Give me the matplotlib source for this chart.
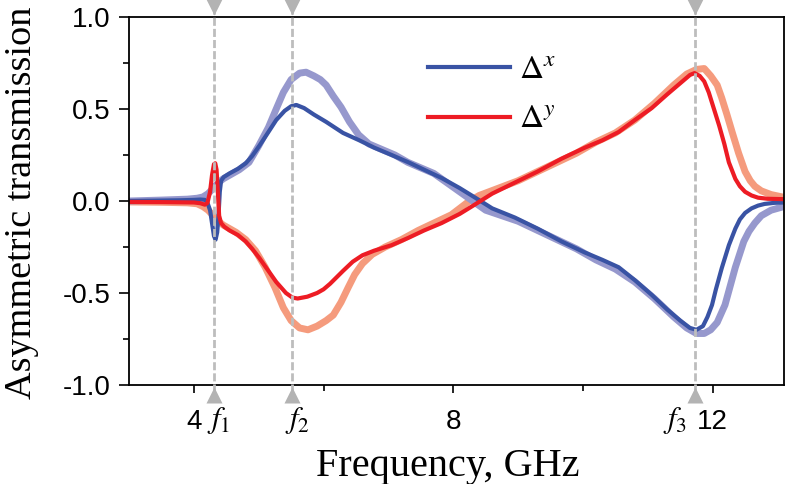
import matplotlib
matplotlib.use('Agg')
import matplotlib.pyplot as plt
from matplotlib.ticker import MultipleLocator, FormatStrFormatter
from matplotlib.lines import Line2D

plt.rcParams['axes.unicode_minus'] = False
plt.rcParams['mathtext.fontset'] = 'stix'

# Delta^x, dark blue (frequency GHz, value)
dx_freq = [3.0, 3.4, 3.8, 4.0, 4.1, 4.17, 4.21, 4.25, 4.28, 4.31, 4.335, 4.36, 4.38, 4.40,
           4.42, 4.46, 4.55, 4.68, 4.8, 4.9, 5.01, 5.15, 5.27, 5.4, 5.5, 5.58, 5.7, 5.85, 6.04,
           6.3, 6.55, 6.78, 7.05, 7.31, 7.55, 7.82, 8.1, 8.33, 8.6, 8.95, 9.3, 9.67, 10.03,
           10.3, 10.55, 10.8, 11.06, 11.3, 11.5, 11.65, 11.75, 11.85, 11.92, 11.99, 12.05,
           12.14, 12.25, 12.35, 12.42, 12.5, 12.6, 12.7, 12.8, 12.95, 13.1]
dx_vals = [0.0, 0.002, 0.004, 0.006, 0.008, 0.006, -0.01, -0.05, -0.12, -0.19, -0.21, -0.17, -0.08, 0.05,
           0.11, 0.13, 0.15, 0.175, 0.205, 0.245, 0.30, 0.375, 0.44, 0.49, 0.515, 0.522, 0.505, 0.47, 0.43,
           0.37, 0.33, 0.29, 0.25, 0.21, 0.17, 0.125, 0.07, 0.02, -0.04, -0.09, -0.15, -0.22, -0.28,
           -0.32, -0.36, -0.43, -0.51, -0.59, -0.65, -0.69, -0.70, -0.68, -0.63, -0.565, -0.48,
           -0.365, -0.24, -0.15, -0.10, -0.065, -0.04, -0.025, -0.016, -0.01, -0.008]

# Delta^y, red
dy_freq = [3.0, 3.5, 4.0, 4.1, 4.17, 4.21, 4.25, 4.28, 4.31, 4.33, 4.35, 4.37, 4.39, 4.42,
           4.47, 4.55, 4.68, 4.8, 4.9, 5.01, 5.15, 5.27, 5.42, 5.52, 5.6, 5.75, 5.9, 6.0, 6.1,
           6.2, 6.3, 6.45, 6.6, 6.78, 7.05, 7.31, 7.55, 7.82, 8.1, 8.33, 8.6, 8.95, 9.3, 9.67, 10.03,
           10.3, 10.55, 10.8, 11.06, 11.3, 11.5, 11.65, 11.72, 11.8, 11.87, 11.94, 12.02, 12.1,
           12.18, 12.25, 12.35, 12.42, 12.5, 12.6, 12.7, 12.85, 13.1]
dy_vals = [-0.005, -0.006, -0.008, -0.012, -0.02, -0.01, 0.05, 0.14, 0.2, 0.205, 0.17, 0.05, -0.08, -0.12,
           -0.14, -0.16, -0.185, -0.22, -0.26, -0.31, -0.38, -0.44, -0.50, -0.525, -0.53, -0.52, -0.50, -0.48, -0.45,
           -0.415, -0.38, -0.33, -0.295, -0.27, -0.24, -0.20, -0.16, -0.12, -0.07, -0.02, 0.04, 0.10, 0.16, 0.23, 0.29,
           0.33, 0.375, 0.44, 0.505, 0.58, 0.64, 0.685, 0.695, 0.68, 0.65, 0.59, 0.50, 0.41,
           0.31, 0.21, 0.12, 0.08, 0.05, 0.03, 0.018, 0.012, 0.01]

# light blue (second Delta^x curve)
lx_freq = [3.0, 3.5, 3.9, 4.05, 4.14, 4.22, 4.3, 4.38, 4.45, 4.55, 4.7, 4.85, 5.0, 5.15,
           5.27, 5.38, 5.5, 5.63, 5.73, 5.85, 5.95, 6.04, 6.15, 6.27, 6.4, 6.54, 6.7, 6.9,
           7.1, 7.3, 7.5, 7.7, 7.9, 8.1, 8.3, 8.5, 8.75, 9.0, 9.3, 9.6, 9.9, 10.2, 10.5,
           10.8, 11.1, 11.4, 11.6, 11.75, 11.87, 11.97, 12.07, 12.19, 12.28, 12.35, 12.48,
           12.56, 12.65, 12.75, 12.9, 13.1]
lx_vals = [0.0, 0.005, 0.01, 0.015, 0.022, 0.04, 0.07, 0.10, 0.12, 0.14, 0.17, 0.21, 0.30, 0.40,
           0.50, 0.59, 0.66, 0.695, 0.70, 0.68, 0.66, 0.63, 0.57, 0.51, 0.43, 0.36, 0.31, 0.28,
           0.25, 0.21, 0.18, 0.15, 0.10, 0.05, 0.0, -0.05, -0.08, -0.11, -0.16, -0.21, -0.26, -0.32, -0.37,
           -0.44, -0.53, -0.63, -0.69, -0.72, -0.72, -0.70, -0.66, -0.565, -0.45, -0.36, -0.22,
           -0.165, -0.12, -0.08, -0.05, -0.03]

# light orange (second Delta^y curve)
ly_freq = [3.0, 3.5, 3.9, 4.05, 4.14, 4.22, 4.3, 4.38, 4.45, 4.55, 4.65, 4.8, 4.95, 5.1,
           5.25, 5.38, 5.5, 5.63, 5.76, 5.9, 6.04, 6.15, 6.27, 6.38, 6.48, 6.6, 6.75, 6.95,
           7.2, 7.46, 7.7, 7.97, 8.1, 8.23, 8.4, 8.7, 9.0, 9.3, 9.6, 9.9, 10.2, 10.5, 10.8,
           11.1, 11.4, 11.6, 11.75, 11.87, 11.97, 12.07, 12.14, 12.22, 12.3, 12.4, 12.5,
           12.58, 12.65, 12.75, 12.9, 13.1]
ly_vals = [-0.005, -0.007, -0.01, -0.015, -0.03, -0.05, -0.08, -0.11, -0.13, -0.15, -0.17, -0.21, -0.27, -0.36,
           -0.47, -0.58, -0.65, -0.69, -0.70, -0.68, -0.65, -0.62, -0.55, -0.47, -0.40, -0.34, -0.29, -0.25,
           -0.21, -0.16, -0.12, -0.075, -0.04, -0.005, 0.03, 0.07, 0.11, 0.16, 0.21, 0.26, 0.32, 0.37, 0.44,
           0.53, 0.63, 0.69, 0.715, 0.72, 0.68, 0.63, 0.56, 0.47, 0.375, 0.26, 0.16,
           0.11, 0.08, 0.055, 0.035, 0.02]

marker_freqs = [4.31, 5.52, 11.72]
marker_names = ['$f_1$', '$f_2$', '$f_3$']
marker_label_x = [4.38, 5.6, 11.42]

dark_blue = '#3953a4'
red = '#ed1c24'
light_blue = '#9698cd'
light_orange = '#f59b7d'
gray = '#bdbdbd'

fig = plt.figure(figsize=(7.89, 4.84), dpi=100)
ax = fig.add_axes([129 / 789, 1 - 385 / 484, 655 / 789, 368 / 484])

style = dict(solid_capstyle='round', solid_joinstyle='round')
ax.plot(ly_freq, ly_vals, color=light_orange, lw=5, zorder=1, **style)
ax.plot(lx_freq, lx_vals, color=light_blue, lw=5, zorder=1, **style)
ax.plot(dx_freq, dx_vals, color=dark_blue, lw=3, zorder=2, **style)
ax.plot(dy_freq, dy_vals, color=red, lw=3, zorder=2, **style)

trans = ax.get_xaxis_transform()
for f, name, lx in zip(marker_freqs, marker_names, marker_label_x):
    ax.axvline(f, ymin=-0.02, ymax=1.02, color=gray, lw=2, dashes=(2.9, 1.1),
               clip_on=False, zorder=3)
    ax.plot([f], [1.026], marker='v', ms=11, color='#b3b3b3', mec='none',
            transform=trans, clip_on=False, zorder=4)
    ax.plot([f], [-0.026], marker='^', ms=11, color='#b3b3b3', mec='none',
            transform=trans, clip_on=False, zorder=4)
    ax.text(lx, -0.117, name, transform=trans, ha='center', va='baseline', fontsize=22)

ax.set_xlim(3, 13.1)
ax.set_ylim(-1.0, 1.0)
ax.xaxis.set_major_locator(MultipleLocator(4))
ax.xaxis.set_minor_locator(MultipleLocator(2))
ax.yaxis.set_major_locator(MultipleLocator(0.5))
ax.yaxis.set_minor_locator(MultipleLocator(0.25))
ax.yaxis.set_major_formatter(FormatStrFormatter('%.1f'))
ax.set_xticks([4, 8, 12])
ax.tick_params(which='both', direction='out', top=False, right=False, width=1.2)
ax.tick_params(axis='y', which='major', length=7, pad=6, labelsize=20)
ax.tick_params(axis='y', which='minor', length=4)
ax.tick_params(axis='x', which='major', length=6, pad=11, labelsize=20)
ax.tick_params(axis='x', which='minor', length=4)
for lab in ax.get_xticklabels() + ax.get_yticklabels():
    lab.set_family('Liberation Sans')
for sp in ax.spines.values():
    sp.set_linewidth(1.3)

ax.set_xlabel('Frequency, GHz', family='Liberation Serif', fontsize=29, va='baseline')
ax.xaxis.set_label_coords(0.487, -0.247)
ax.set_ylabel('Asymmetric transmission', family='Liberation Serif', fontsize=27.5, va='center')
ax.yaxis.set_label_coords(-0.163, 0.495)

handles = [Line2D([], [], color=dark_blue, lw=3), Line2D([], [], color=red, lw=3)]
ax.legend(handles, [r'$\Delta^x$', r'$\Delta^y$'], loc='upper left',
          bbox_to_anchor=(0.4565, 0.9035), frameon=False, fontsize=24,
          handlelength=2.46, handletextpad=0.27, labelspacing=0.5,
          borderpad=0, borderaxespad=0)

fig.savefig('out.png', dpi=100)
